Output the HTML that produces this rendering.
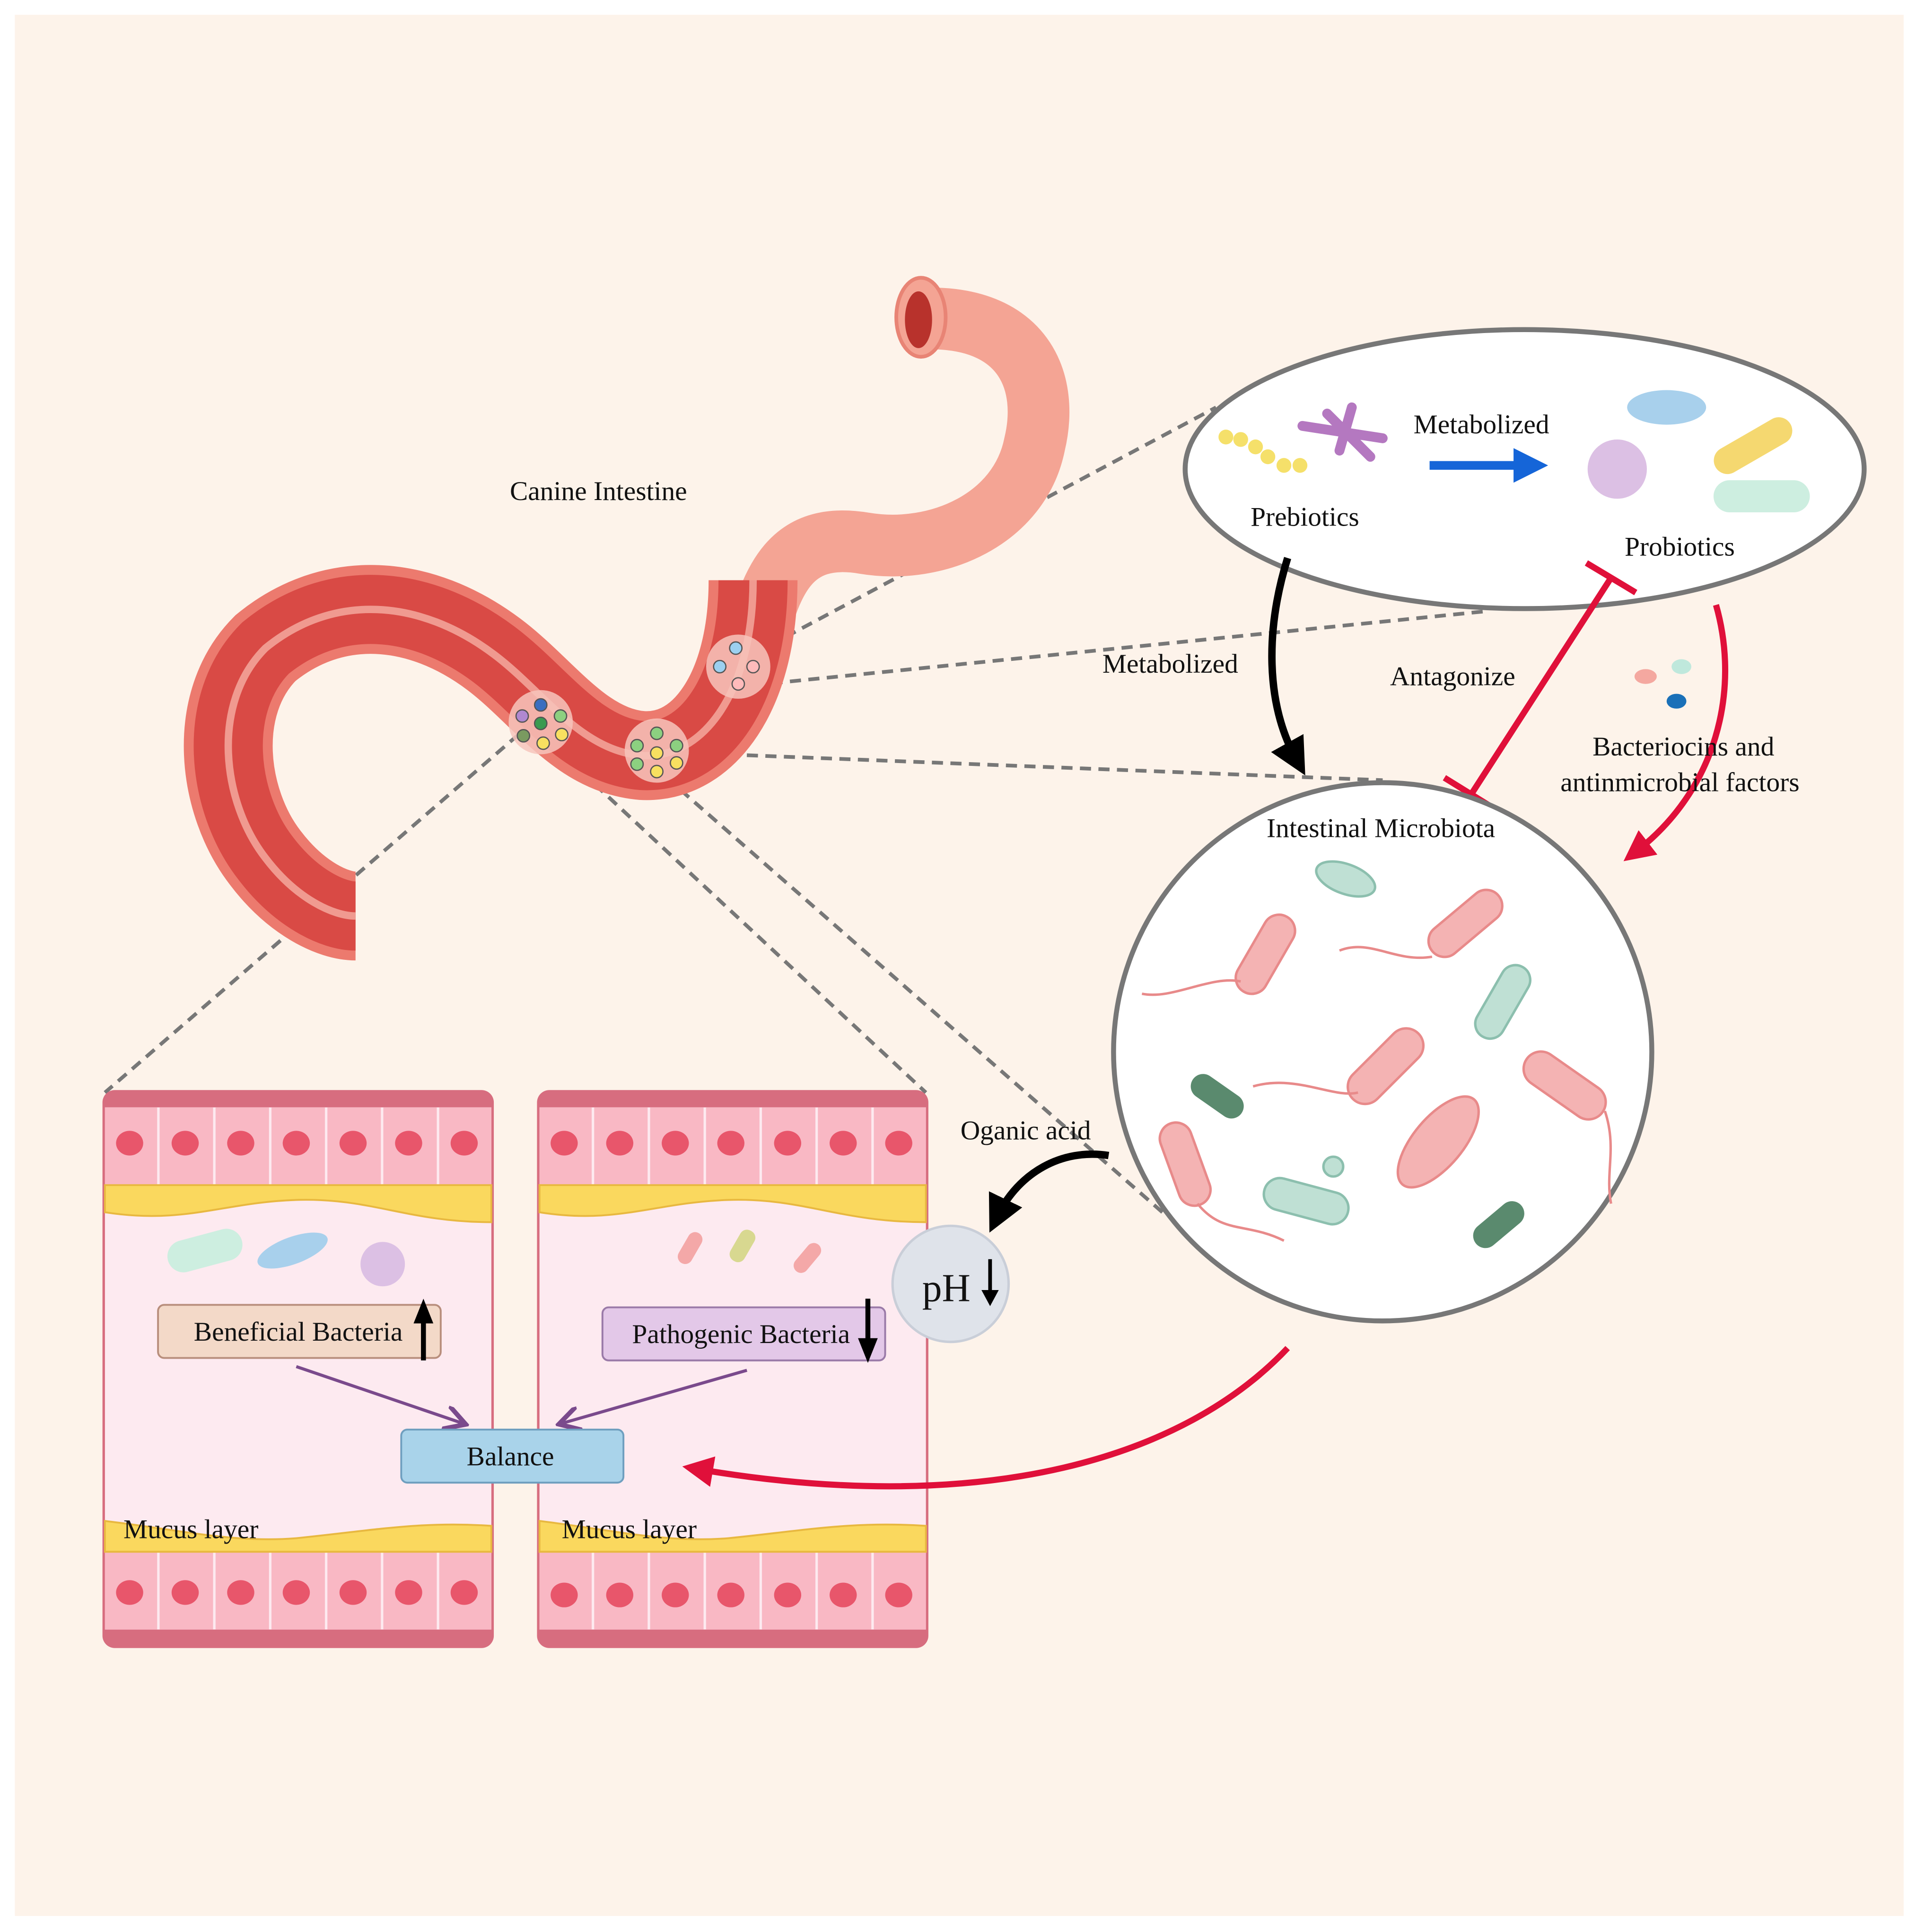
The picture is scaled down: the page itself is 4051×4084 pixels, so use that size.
<!DOCTYPE html>
<html><head><meta charset="utf-8"><style>
html,body{margin:0;padding:0;background:#fff}
svg{display:block}
text{font-family:"Liberation Serif",serif;fill:#111}
</style></head><body>
<svg width="4051" height="4084" viewBox="0 0 1552 1565" preserveAspectRatio="none" xmlns="http://www.w3.org/2000/svg">
<defs>
<pattern id="cells" x="83" y="0" width="45.3" height="2000" patternUnits="userSpaceOnUse">
<rect x="1" y="0" width="43.3" height="2000" rx="6" fill="#f9b8c4"/>
</pattern>
<pattern id="cells2" x="435" y="0" width="45.3" height="2000" patternUnits="userSpaceOnUse">
<rect x="1" y="0" width="43.3" height="2000" rx="6" fill="#f9b8c4"/>
</pattern>
<marker id="ab" markerWidth="5" markerHeight="5" refX="2.5" refY="2.5" orient="auto" markerUnits="strokeWidth"><path d="M0,0 L5,2.5 L0,5 Z" fill="#000"/></marker>
<marker id="ar" markerWidth="5" markerHeight="5" refX="2.5" refY="2.5" orient="auto" markerUnits="strokeWidth"><path d="M0,0 L5,2.5 L0,5 Z" fill="#e0103a"/></marker>
<marker id="abl" markerWidth="4" markerHeight="4" refX="2" refY="2" orient="auto" markerUnits="strokeWidth"><path d="M0,0 L4,2 L0,4 Z" fill="#1565d8"/></marker>
<marker id="ap" markerWidth="8" markerHeight="8" refX="6" refY="4" orient="auto" markerUnits="strokeWidth"><path d="M0,0 L7,4 L0,8" fill="none" stroke="#7a4a8c" stroke-width="1.5"/></marker>
</defs>
<rect width="1552" height="1565" fill="#fff"/>
<rect x="12" y="12" width="1530" height="1540" fill="#fdf3ea"/>

<!-- dashed lines -->
<g stroke="#777" stroke-width="3" stroke-dasharray="9,6" fill="none">
<line x1="610" y1="530" x2="985" y2="330"/>
<line x1="610" y1="555" x2="1205" y2="495"/>
<line x1="560" y1="610" x2="1120" y2="632"/>
<line x1="420" y1="595" x2="85" y2="885"/>
<line x1="460" y1="615" x2="750" y2="885"/>
<line x1="540" y1="630" x2="945" y2="985"/>
</g>

<!-- intestine -->
<path d="M758,258 C830,260 850,310 838,360 C826,420 760,450 700,440 C640,430 625,470 612,520" stroke="#f4a494" stroke-width="50" fill="none"/>
<ellipse cx="746" cy="257" rx="20" ry="32" fill="#f4a494" stroke="#e88475" stroke-width="3"/>
<ellipse cx="744" cy="259" rx="11" ry="23" fill="#b8322c"/>
<path d="M610,470 C610,560 570,615 520,612 C470,608 440,560 400,530 C340,485 270,480 215,525 C170,570 180,650 215,695 C240,728 270,742 288,742" stroke="#ec7a6e" stroke-width="72" fill="none"/>
<path d="M610,470 C610,560 570,615 520,612 C470,608 440,560 400,530 C340,485 270,480 215,525 C170,570 180,650 215,695 C240,728 270,742 288,742" stroke="#d94a45" stroke-width="56" fill="none"/>
<path d="M610,470 C610,560 570,615 520,612 C470,608 440,560 400,530 C340,485 270,480 215,525 C170,570 180,650 215,695 C240,728 270,742 288,742" stroke="#f09a90" stroke-width="6" fill="none"/>
<circle cx="598" cy="540" r="26" fill="#f7c4bc" opacity=".85"/>
<circle cx="438" cy="585" r="26" fill="#f7c4bc" opacity=".85"/>
<circle cx="532" cy="608" r="26" fill="#f7c4bc" opacity=".85"/>
<g stroke="#555" stroke-width="1">
<circle cx="596" cy="525" r="5" fill="#9cd0f0"/><circle cx="583" cy="540" r="5" fill="#9cd0f0"/><circle cx="610" cy="540" r="5" fill="#fbb"/><circle cx="598" cy="554" r="5" fill="#fbb"/>
<circle cx="438" cy="571" r="5" fill="#3a6ec0"/><circle cx="423" cy="580" r="5" fill="#b088d0"/><circle cx="438" cy="586" r="5" fill="#3a9a50"/><circle cx="454" cy="580" r="5" fill="#8cd080"/><circle cx="424" cy="596" r="5" fill="#7a9a60"/><circle cx="440" cy="602" r="5" fill="#f8e060"/><circle cx="455" cy="595" r="5" fill="#f8e060"/>
<circle cx="516" cy="604" r="5" fill="#8cd080"/><circle cx="532" cy="594" r="5" fill="#8cd080"/><circle cx="548" cy="604" r="5" fill="#8cd080"/><circle cx="532" cy="610" r="5" fill="#f8e060"/><circle cx="516" cy="619" r="5" fill="#8cd080"/><circle cx="548" cy="618" r="5" fill="#f8e060"/><circle cx="532" cy="625" r="5" fill="#f8e060"/>
</g>
<text x="413" y="405" font-size="22">Canine Intestine</text>

<!-- ellipse -->
<ellipse cx="1235" cy="380" rx="275" ry="113" fill="#fff" stroke="#777" stroke-width="4"/>
<g fill="#f5e06a"><circle cx="993" cy="354" r="6"/><circle cx="1005" cy="356" r="6"/><circle cx="1017" cy="362" r="6"/><circle cx="1027" cy="370" r="6"/><circle cx="1040" cy="377" r="6"/><circle cx="1053" cy="377" r="6"/></g>
<g stroke="#b478c0" stroke-width="8" stroke-linecap="round"><line x1="1055" y1="345" x2="1120" y2="355"/><line x1="1075" y1="335" x2="1110" y2="370"/><line x1="1095" y1="330" x2="1085" y2="365"/></g>
<text x="1145" y="351" font-size="22">Metabolized</text>
<line x1="1158" y1="377" x2="1240" y2="377" stroke="#1565d8" stroke-width="7" marker-end="url(#abl)"/>
<text x="1013" y="426" font-size="22">Prebiotics</text>
<text x="1316" y="450" font-size="22">Probiotics</text>
<ellipse cx="1350" cy="330" rx="32" ry="14" fill="#a8d0ec"/>
<circle cx="1310" cy="380" r="24" fill="#dcc0e4"/>
<rect x="1385" y="350" width="70" height="22" rx="11" fill="#f5d870" transform="rotate(-30 1420 361)"/>
<rect x="1388" y="389" width="78" height="26" rx="13" fill="#cdeee0"/>

<!-- arrows between -->
<path d="M1043,452 C1025,510 1025,570 1050,615" stroke="#000" stroke-width="6" fill="none" marker-end="url(#ab)"/>
<text x="893" y="545" font-size="22">Metabolized</text>
<text x="1126" y="555" font-size="22">Antagonize</text>
<line x1="1305" y1="468" x2="1192" y2="643" stroke="#e0103a" stroke-width="5"/>
<line x1="1285" y1="456" x2="1325" y2="480" stroke="#e0103a" stroke-width="5"/>
<line x1="1170" y1="630" x2="1212" y2="656" stroke="#e0103a" stroke-width="5"/>
<path d="M1390,490 C1410,560 1390,640 1325,690" stroke="#e0103a" stroke-width="5" fill="none" marker-end="url(#ar)"/>
<ellipse cx="1333" cy="548" rx="9" ry="6" fill="#f4a8a0"/><ellipse cx="1362" cy="540" rx="8" ry="6" fill="#bfe8dc"/><ellipse cx="1358" cy="568" rx="8" ry="6" fill="#1a70b8"/>
<text x="1290" y="612" font-size="22">Bacteriocins and</text>
<text x="1264" y="641" font-size="22">antinmicrobial factors</text>

<!-- microbiota circle -->
<circle cx="1120" cy="852" r="218" fill="#fff" stroke="#777" stroke-width="4"/>
<text x="1026" y="678" font-size="22">Intestinal Microbiota</text>
<g fill="#f4b3b3" stroke="#e88a8a" stroke-width="2">
<rect x="990" y="760" width="70" height="26" rx="13" transform="rotate(-60 1025 773)"/>
<rect x="1152" y="735" width="70" height="26" rx="13" transform="rotate(-40 1187 748)"/>
<rect x="1085" y="850" width="75" height="28" rx="14" transform="rotate(-45 1122 864)"/>
<rect x="1230" y="865" width="75" height="28" rx="14" transform="rotate(35 1267 879)"/>
<rect x="925" y="930" width="70" height="26" rx="13" transform="rotate(70 960 943)"/>
<ellipse cx="1165" cy="925" rx="20" ry="45" transform="rotate(40 1165 925)"/>
</g>
<g fill="#bfe0d4" stroke="#8cbfae" stroke-width="2">
<ellipse cx="1090" cy="712" rx="25" ry="12" transform="rotate(20 1090 712)"/>
<rect x="1185" y="800" width="65" height="24" rx="12" transform="rotate(-60 1217 812)"/>
<rect x="1023" y="960" width="70" height="26" rx="13" transform="rotate(15 1058 973)"/>
<circle cx="1080" cy="945" r="8"/>
</g>
<g fill="#5a8a6e"><rect x="962" y="878" width="48" height="20" rx="10" transform="rotate(35 986 888)"/><rect x="1190" y="982" width="48" height="20" rx="10" transform="rotate(-40 1214 992)"/></g>
<g stroke="#e88a8a" stroke-width="2" fill="none"><path d="M1005,795 C980,790 950,810 925,805"/><path d="M1160,775 C1130,780 1110,760 1085,770"/><path d="M1100,885 C1080,890 1050,870 1015,880"/><path d="M1300,900 C1310,930 1300,950 1305,975"/><path d="M970,975 C990,1000 1010,990 1040,1005"/></g>

<!-- panels -->
<g>
<rect x="83" y="883" width="317" height="452" rx="10" fill="#d76d7f"/>
<rect x="85" y="897" width="313" height="423" fill="#fdeaf0"/>
<rect x="85" y="897" width="313" height="65" fill="url(#cells)"/>
<rect x="85" y="1257" width="313" height="63" fill="url(#cells)"/>
<path d="M85,960 L398,960 L398,990 C330,990 300,970 240,972 C180,974 150,992 85,982 Z" fill="#fad85e" stroke="#e8b840" stroke-width="1.5"/>
<path d="M85,1232 C150,1240 190,1250 240,1246 C300,1240 340,1232 398,1236 L398,1257 L85,1257 Z" fill="#fad85e" stroke="#e8b840" stroke-width="1.5"/>
<g fill="#e8566b"><ellipse cx="105" cy="926" rx="11" ry="10"/><ellipse cx="150" cy="926" rx="11" ry="10"/><ellipse cx="195" cy="926" rx="11" ry="10"/><ellipse cx="240" cy="926" rx="11" ry="10"/><ellipse cx="286" cy="926" rx="11" ry="10"/><ellipse cx="331" cy="926" rx="11" ry="10"/><ellipse cx="376" cy="926" rx="11" ry="10"/>
<ellipse cx="105" cy="1290" rx="11" ry="10"/><ellipse cx="150" cy="1290" rx="11" ry="10"/><ellipse cx="195" cy="1290" rx="11" ry="10"/><ellipse cx="240" cy="1290" rx="11" ry="10"/><ellipse cx="286" cy="1290" rx="11" ry="10"/><ellipse cx="331" cy="1290" rx="11" ry="10"/><ellipse cx="376" cy="1290" rx="11" ry="10"/></g>
</g>
<g>
<rect x="435" y="883" width="317" height="452" rx="10" fill="#d76d7f"/>
<rect x="437" y="897" width="313" height="423" fill="#fdeaf0"/>
<rect x="437" y="897" width="313" height="65" fill="url(#cells2)"/>
<rect x="437" y="1257" width="313" height="63" fill="url(#cells2)"/>
<path d="M437,960 L750,960 L750,990 C680,990 650,970 590,972 C530,974 500,992 437,982 Z" fill="#fad85e" stroke="#e8b840" stroke-width="1.5"/>
<path d="M437,1232 C500,1240 540,1250 590,1246 C650,1240 690,1232 750,1236 L750,1257 L437,1257 Z" fill="#fad85e" stroke="#e8b840" stroke-width="1.5"/>
<g fill="#e8566b"><ellipse cx="457" cy="926" rx="11" ry="10"/><ellipse cx="502" cy="926" rx="11" ry="10"/><ellipse cx="547" cy="926" rx="11" ry="10"/><ellipse cx="592" cy="926" rx="11" ry="10"/><ellipse cx="638" cy="926" rx="11" ry="10"/><ellipse cx="683" cy="926" rx="11" ry="10"/><ellipse cx="728" cy="926" rx="11" ry="10"/>
<ellipse cx="457" cy="1292" rx="11" ry="10"/><ellipse cx="502" cy="1292" rx="11" ry="10"/><ellipse cx="547" cy="1292" rx="11" ry="10"/><ellipse cx="592" cy="1292" rx="11" ry="10"/><ellipse cx="638" cy="1292" rx="11" ry="10"/><ellipse cx="683" cy="1292" rx="11" ry="10"/><ellipse cx="728" cy="1292" rx="11" ry="10"/></g>
</g>
<!-- panel bacteria -->
<rect x="135" y="1000" width="62" height="26" rx="13" fill="#cdeee0" transform="rotate(-15 166 1013)"/>
<ellipse cx="237" cy="1013" rx="30" ry="11" fill="#a8d0ec" transform="rotate(-20 237 1013)"/>
<circle cx="310" cy="1024" r="18" fill="#dcc0e4"/>
<rect x="545" y="1005" width="28" height="12" rx="6" fill="#f4a8a8" transform="rotate(-60 559 1011)"/>
<rect x="587" y="1003" width="28" height="13" rx="6" fill="#d8d890" transform="rotate(-60 601 1009)"/>
<rect x="640" y="1013" width="28" height="12" rx="6" fill="#f4a8a8" transform="rotate(-50 654 1019)"/>

<rect x="128" y="1057" width="229" height="43" rx="5" fill="#f3d9c8" stroke="#b88e7c" stroke-width="1.5"/>
<text x="157" y="1086" font-size="22">Beneficial Bacteria</text>
<line x1="343" y1="1102" x2="343" y2="1068" stroke="#000" stroke-width="4"/><path d="M335,1072 L343,1052 L351,1072 Z" fill="#000"/>
<rect x="488" y="1059" width="229" height="43" rx="5" fill="#e3c8e8" stroke="#9a7aa8" stroke-width="1.5"/>
<text x="512" y="1088" font-size="22">Pathogenic Bacteria</text>
<line x1="703" y1="1052" x2="703" y2="1088" stroke="#000" stroke-width="4"/><path d="M695,1084 L703,1104 L711,1084 Z" fill="#000"/>
<line x1="240" y1="1107" x2="375" y2="1153" stroke="#7a4a8c" stroke-width="2.5" marker-end="url(#ap)"/>
<line x1="605" y1="1110" x2="455" y2="1153" stroke="#7a4a8c" stroke-width="2.5" marker-end="url(#ap)"/>
<rect x="325" y="1158" width="180" height="43" rx="5" fill="#a9d3ea" stroke="#6f9fbf" stroke-width="1.5"/>
<text x="378" y="1187" font-size="22">Balance</text>
<text x="100" y="1246" font-size="22">Mucus layer</text>
<text x="455" y="1246" font-size="22">Mucus layer</text>

<!-- organic acid / pH -->
<text x="778" y="923" font-size="22">Oganic acid</text>
<path d="M898,936 C860,930 825,950 808,985" stroke="#000" stroke-width="6" fill="none" marker-end="url(#ab)"/>
<circle cx="770" cy="1040" r="47" fill="#dfe3ea" stroke="#c9ced8" stroke-width="2"/>
<text x="747" y="1054" font-size="32">pH</text>
<line x1="802" y1="1020" x2="802" y2="1048" stroke="#000" stroke-width="3"/><path d="M795,1045 L802,1058 L809,1045 Z" fill="#000"/>

<path d="M1043,1092 C960,1180 800,1230 565,1190" stroke="#e0103a" stroke-width="5" fill="none" marker-end="url(#ar)"/>
</svg>
</body></html>
